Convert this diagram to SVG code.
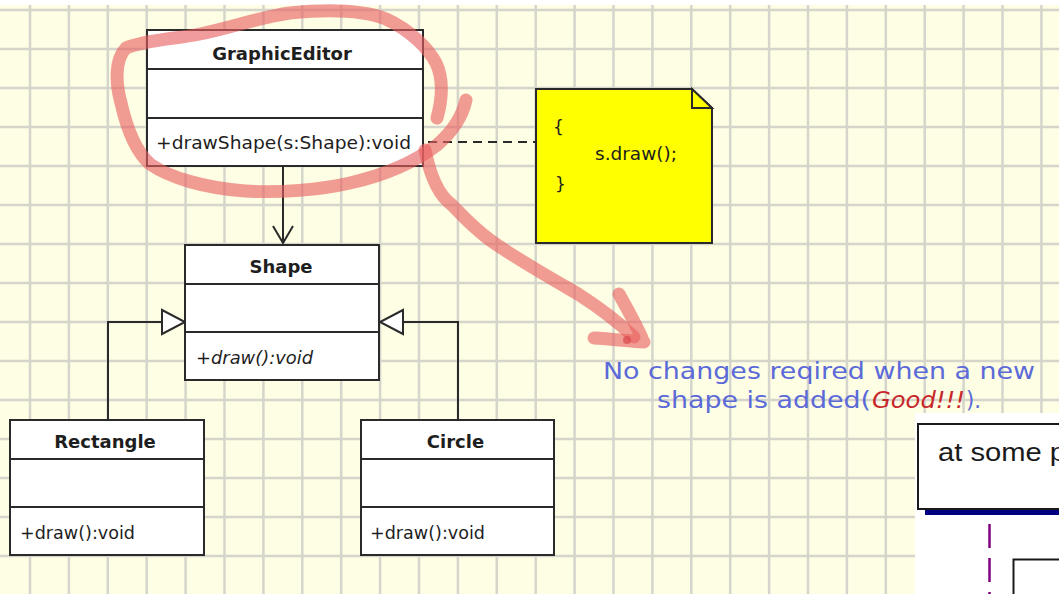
<svg xmlns="http://www.w3.org/2000/svg" width="1059" height="594" viewBox="0 0 1059 594">
<defs>
<style>
.box{fill:#ffffff;stroke:#2a2a2a;stroke-width:2}
.div{stroke:#2a2a2a;stroke-width:2;fill:none}
.title{font-family:"DejaVu Sans",sans-serif;font-weight:bold;font-size:18px;fill:#1e1e1e;text-anchor:middle}
.meth{font-family:"DejaVu Sans",sans-serif;font-size:17px;fill:#1e1e1e}
.conn{stroke:#2a2a2a;stroke-width:2;fill:none}
.tri{fill:#ffffff;stroke:#2a2a2a;stroke-width:2}
.blue{font-family:"DejaVu Sans",sans-serif;font-size:23px;fill:#5b6ad8}
.red{font-family:"DejaVu Sans",sans-serif;font-size:23px;fill:#c8262a;font-style:italic}
.pen{fill:none;stroke:#e8605f;stroke-opacity:0.62;stroke-width:13;stroke-linecap:round;stroke-linejoin:round}
</style>
</defs>
<rect x="0" y="0" width="1059" height="594" fill="#ffffff"/>
<rect x="0" y="5" width="1059" height="589" fill="#fefee4"/>
<path d="M30 5V594M68.9 5V594M107.8 5V594M146.7 5V594M185.6 5V594M224.5 5V594M263.4 5V594M302.3 5V594M341.2 5V594M380.1 5V594M419 5V594M457.9 5V594M496.8 5V594M535.7 5V594M574.6 5V594M613.5 5V594M652.4 5V594M691.3 5V594M730.2 5V594M769.1 5V594M808 5V594M846.9 5V594M885.8 5V594M924.7 5V594M963.6 5V594M1002.5 5V594M1041.4 5V594M0 10H1059M0 49H1059M0 88H1059M0 127H1059M0 166H1059M0 205H1059M0 244H1059M0 283H1059M0 322H1059M0 361H1059M0 400H1059M0 439H1059M0 478H1059M0 517H1059M0 556H1059" stroke="#d5d5cc" stroke-width="2.5" fill="none"/>

<g id="connectors">
<path class="conn" d="M283 166V243"/>
<path class="conn" d="M273 226L283 243L293 226"/>
<path class="conn" d="M108 420V322H162"/>
<path class="tri" d="M162 310L185 322L162 334Z"/>
<path class="conn" d="M458 420V322H403"/>
<path class="tri" d="M403 310L380 322L403 334Z"/>
<path class="conn" d="M413 142H536" stroke-dasharray="9 6"/>
</g>

<g id="graphic-editor">
<rect class="box" x="147" y="30" width="276" height="136"/>
<path class="div" d="M147 69H423M147 118H423"/>
<text class="title" x="282" y="60">GraphicEditor</text>
<text class="meth" x="156" y="149" textLength="255" lengthAdjust="spacingAndGlyphs">+drawShape(s:Shape):void</text>
</g>

<g id="shape">
<rect class="box" x="185" y="245" width="194" height="135"/>
<path class="div" d="M185 284H379M185 332H379"/>
<text class="title" x="281" y="273">Shape</text>
<text class="meth" x="196" y="364" font-style="italic" textLength="117" lengthAdjust="spacingAndGlyphs">+draw():void</text>
</g>

<g id="rectangle">
<rect class="box" x="10" y="420" width="194" height="135"/>
<path class="div" d="M10 459H204M10 507H204"/>
<text class="title" x="105" y="448">Rectangle</text>
<text class="meth" x="20" y="539" textLength="115" lengthAdjust="spacingAndGlyphs">+draw():void</text>
</g>

<g id="circle">
<rect class="box" x="361" y="420" width="193" height="135"/>
<path class="div" d="M361 459H554M361 507H554"/>
<text class="title" x="455.5" y="448">Circle</text>
<text class="meth" x="370" y="539" textLength="115" lengthAdjust="spacingAndGlyphs">+draw():void</text>
</g>

<g id="note">
<path d="M536 89H692L712 108V243H536Z" fill="#ffff00" stroke="#2a2a2a" stroke-width="2"/>
<path d="M692 89V108H712Z" fill="#ffff00" stroke="#2a2a2a" stroke-width="2" stroke-linejoin="miter"/>
<text class="meth" x="553" y="133">{</text>
<text class="meth" x="595" y="160" textLength="82" lengthAdjust="spacingAndGlyphs">s.draw();</text>
<text class="meth" x="555" y="190">}</text>
</g>

<g id="annotation">
<path class="pen" d="M437 118C442 100 444 80 436 63C428 48 410 30 386 19C360 9 320 10 290 13C260 17 230 28 200 34C175 39 145 40 126 48C114 60 116 85 121 103C126 125 134 150 150 164C170 178 205 188 245 191C280 193 320 190 350 183C385 175 415 162 437 145C452 132 462 118 466 100"/>
<path class="pen" d="M425 150C430 175 438 195 452 205C462 215 470 225 490 240C515 258 545 275 578 294C600 308 618 322 634 337"/>
<path class="pen" d="M619 294C628 310 636 325 642 338M594 338C612 339 628 341 644 342"/>
<circle cx="627" cy="340" r="4" fill="#d84848" fill-opacity="0.7"/>
<text class="blue" x="603" y="379" textLength="432" lengthAdjust="spacingAndGlyphs">No changes reqired when a new</text>
<text class="blue" x="657" y="408" textLength="214" lengthAdjust="spacingAndGlyphs">shape is added(</text>
<text class="red" x="872" y="408" textLength="93" lengthAdjust="spacingAndGlyphs">Good!!!</text>
<text class="blue" x="966" y="408" textLength="15" lengthAdjust="spacingAndGlyphs">).</text>
</g>

<g id="partial-diagram">
<rect x="915" y="413" width="144" height="181" fill="#ffffff"/>
<rect x="918" y="424" width="160" height="85" fill="#ffffff" stroke="#1a1a1a" stroke-width="2"/>
<rect x="925" y="510" width="134" height="5" fill="#000080"/>
<text x="938" y="461" font-family="'Liberation Sans',Arial,sans-serif" font-size="25" fill="#1a1a1a" textLength="128" lengthAdjust="spacingAndGlyphs">at some p</text>
<path d="M989.5 524V594" stroke="#800080" stroke-width="2.5" stroke-dasharray="24 10"/>
<rect x="1013.5" y="559.5" width="80" height="60" fill="#ffffff" stroke="#1a1a1a" stroke-width="2"/>
</g>
</svg>
